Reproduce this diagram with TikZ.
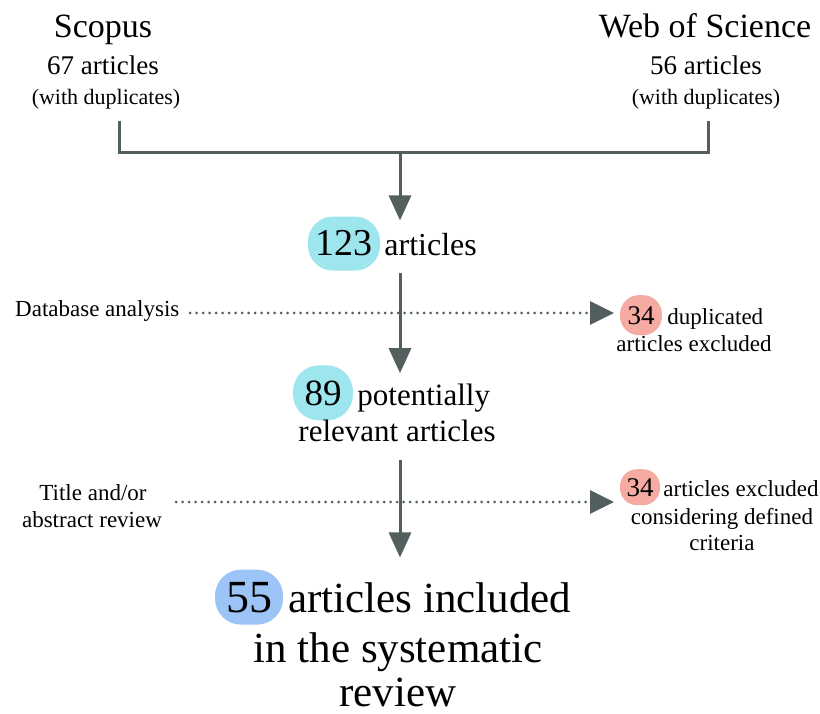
\documentclass[tikz,border=0pt]{standalone}
\usepackage{fontspec}
\setmainfont{Liberation Serif}
\usepackage{tikz}
\usetikzlibrary{arrows.meta,positioning}

\definecolor{flowgray}{HTML}{535E5E}
\definecolor{hitcyan}{HTML}{9EE6EE}
\definecolor{hitred}{HTML}{F5AAA2}
\definecolor{hitblue}{HTML}{9DC4F7}

\tikzset{
  fs/.style={font=\fontsize{#1}{#1}\selectfont},
  lbl/.style={inner sep=0pt, anchor=base},
  bubble/.style={fill=#1, inner sep=0pt, anchor=base},
  flow/.style={draw=flowgray, line width=3pt},
  flowarrow/.style={flow, -{Triangle[width=22pt,length=25pt]}},
  skiparrow/.style={draw=flowgray, line width=3pt, line cap=round,
    dash pattern=on 0pt off 6.5pt, -{Triangle[width=23pt,length=24pt]}}
}

\begin{document}
\begin{tikzpicture}[x=1pt, y=-1pt]
    \useasboundingbox (0,0) rectangle (820,714);
    % Sources:
    \node[lbl, fs=34] (scopus) at (103, 38){Scopus};
    \node[lbl, fs=27] (scopusn) at (103, 75){67 articles};
    \node[lbl, fs=22] (scopusd) at (106, 105){(with duplicates)};
    \node[lbl, fs=34] (wos) at (705, 38){Web of Science};
    \node[lbl, fs=27] (wosn) at (706, 75){56 articles};
    \node[lbl, fs=22] (wosd) at (706, 105){(with duplicates)};
    \coordinate (srcl) at (119, 121);
    \coordinate (srcr) at (708, 121);
    \coordinate (join) at (400, 153);
    \draw[flow] (srcl) |- (join) -| (srcr);

    % Records:
    \node[bubble=hitcyan, fs=38, rounded corners=25pt, minimum width=72pt, minimum height=54pt] (n123) at (344, 256){123};
    \node[lbl, fs=32, anchor=base west] (t123) at ([xshift=4pt]n123.base east){articles};
    \draw[flowarrow] (join) -- ([yshift=-4pt]join |- n123.north);

    % Duplicates:
    \node[lbl, fs=23, anchor=base west] (dban) at (15, 317){Database analysis};
    \node[bubble=hitred, fs=27, rounded corners=19pt, minimum width=42pt, minimum height=40pt] (n34a) at (641, 324){34};
    \node[lbl, fs=23, anchor=base west] (t34a) at ([xshift=5pt]n34a.base east){duplicated};
    \node[lbl, fs=23] (t34ab) at (694, 352){articles excluded};
    \coordinate (d1s) at (190, 313);
    \coordinate (d1e) at (614, 313);
    \draw[skiparrow] (d1s) -- (d1e);

    % Screening:
    \node[bubble=hitcyan, fs=37, rounded corners=26pt, minimum width=60pt, minimum height=55pt] (n89) at (323, 405){89};
    \node[lbl, fs=31, anchor=base west] (t89) at ([xshift=4pt]n89.base east){potentially};
    \node[lbl, fs=31] (t89b) at (397, 441){relevant articles};
    \draw[flowarrow] ([yshift=-2pt]join |- n123.south) -- ([yshift=-8pt]join |- n89.north);

    \node[lbl, fs=23] (tar) at (93, 500){Title and/or};
    \node[lbl, fs=23] (tarb) at (92, 527){abstract review};
    \node[bubble=hitred, fs=27, rounded corners=17pt, minimum width=40pt, minimum height=36pt] (n34b) at (640, 496){34};
    \node[lbl, fs=23, anchor=base west] (t34b) at ([xshift=3pt]n34b.base east){articles excluded};
    \node[lbl, fs=23] (t34bb) at (722, 524){considering defined};
    \node[lbl, fs=23] (t34bc) at (722, 550){criteria};
    \coordinate (d2s) at (176, 502);
    \coordinate (d2e) at (614, 502);
    \draw[skiparrow] (d2s) -- (d2e);

    % Included:
    \node[bubble=hitblue, fs=46, rounded corners=26pt, minimum width=68pt, minimum height=55pt] (n55) at (249, 612){55};
    \node[lbl, fs=43, anchor=base west] (t55) at ([xshift=5pt]n55.base east){articles included};
    \node[lbl, fs=43] (t55b) at (398, 662){in the systematic};
    \node[lbl, fs=43] (t55c) at (398, 706){review};
    \draw[flowarrow] (400, 460) -- ([yshift=12pt]join |- n55.north);
\end{tikzpicture}
\end{document}
